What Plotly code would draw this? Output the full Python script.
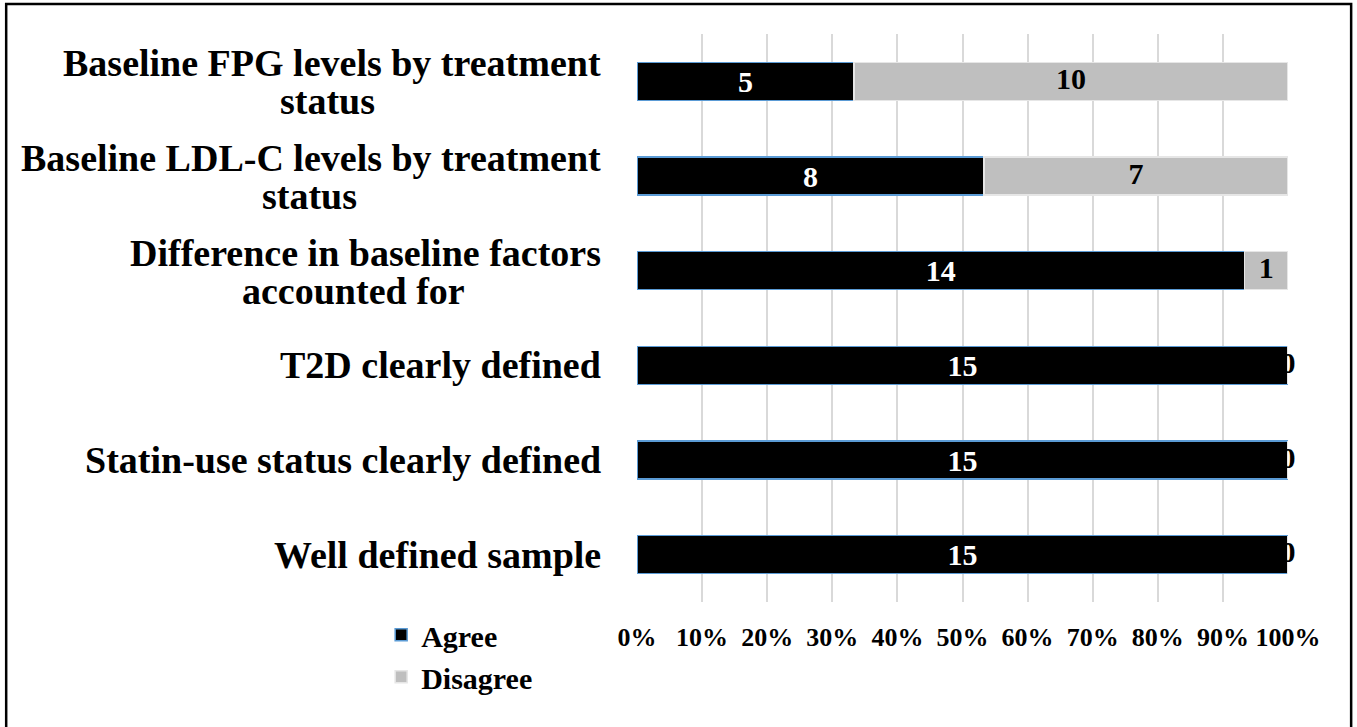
import plotly.graph_objects as go

# Study-quality ratings (number of reviewers, n = 15)
categories = [
    "Well defined sample",
    "Statin-use status clearly defined",
    "T2D clearly defined",
    "Difference in baseline factors<br>accounted for",
    "Baseline LDL-C levels by treatment<br>status",
    "Baseline FPG levels by treatment<br>status",
]
agree = [15, 15, 15, 14, 8, 5]
disagree = [0, 0, 0, 1, 7, 10]
tick_vals = [0, 10, 20, 30, 40, 50, 60, 70, 80, 90, 100]
tick_text = [f"{v}%" for v in tick_vals]

totals = [a + d for a, d in zip(agree, disagree)]
agree_pct = [a / t * 100 for a, t in zip(agree, totals)]
disagree_pct = [d / t * 100 for d, t in zip(disagree, totals)]
disagree_mid = [a + d / 2 for a, d in zip(agree_pct, disagree_pct)]

FONT = "Liberation Serif, Times New Roman, serif"
LABEL_SIZE = 38
LINE_GAP = 38          # px between wrapped label lines
LABEL_RIGHT = -0.052   # right edge of the label column (paper x)
# horizontal centre (paper x) of the continuation line under each wrapped label
WRAP_CENTRE = {3: -0.435, 4: -0.503, 5: -0.475}

fig = go.Figure()
fig.add_trace(go.Bar(
    y=categories, x=agree_pct, orientation="h", name="<b>Agree</b>",
    marker=dict(color="#000000", line=dict(color="#5B9BD5", width=1.5)),
    text=[f"<b>{v}</b>" for v in agree], textposition="inside",
    insidetextanchor="middle", constraintext="none", textangle=0,
    textfont=dict(family=FONT, size=30, color="white"),
    hoverinfo="skip",
))
fig.add_trace(go.Bar(
    y=categories, x=disagree_pct, orientation="h", name="<b>Disagree</b>",
    marker=dict(color="#BFBFBF", line=dict(color="#E6E6E6", width=1.5)),
    hoverinfo="skip",
))
# Disagree counts (also shown for zero-width segments at the 100% edge)
fig.add_trace(go.Scatter(
    y=categories, x=disagree_mid, mode="text",
    text=[f"<b>{v}</b>" for v in disagree],
    textfont=dict(family=FONT, size=30, color="black"),
    showlegend=False, hoverinfo="skip", cliponaxis=False,
))

# Category labels; wrapped labels drawn line by line with tight spacing
for idx, cat in enumerate(categories):
    lines = cat.split("<br>")
    if len(lines) == 1:
        fig.add_annotation(
            x=LABEL_RIGHT, xref="paper", y=cat, yref="y",
            text=f"<b>{lines[0]}</b>", xanchor="right", yanchor="middle",
            showarrow=False, font=dict(family=FONT, size=LABEL_SIZE, color="black"),
        )
    else:
        fig.add_annotation(
            x=LABEL_RIGHT, xref="paper", y=cat, yref="y",
            text=f"<b>{lines[0]}</b>", xanchor="right", yanchor="middle",
            showarrow=False, yshift=LINE_GAP / 2 - 1,
            font=dict(family=FONT, size=LABEL_SIZE, color="black"),
        )
        fig.add_annotation(
            x=WRAP_CENTRE[idx], xref="paper", y=cat, yref="y",
            text=f"<b>{lines[1]}</b>", xanchor="center", yanchor="middle",
            showarrow=False, yshift=-LINE_GAP / 2 - 1,
            font=dict(family=FONT, size=LABEL_SIZE, color="black"),
        )

# Outer frame
fig.add_shape(type="rect", xref="paper", yref="paper",
              x0=-0.969, x1=1.097, y0=-0.4, y1=1.053,
              line=dict(color="black", width=2.5), fillcolor="rgba(0,0,0,0)")

fig.update_layout(
    width=1357, height=727,
    margin=dict(l=637, r=69, t=34, b=125),
    barmode="stack", bargap=0.6,
    plot_bgcolor="white", paper_bgcolor="white",
    font=dict(family=FONT, color="black"),
    showlegend=True,
    legend=dict(x=-0.393, y=-0.012, xanchor="left", yanchor="top",
                traceorder="normal",
                font=dict(family=FONT, size=30, color="black"),
                itemwidth=30, tracegroupgap=0, bgcolor="rgba(0,0,0,0)"),
    xaxis=dict(range=[0, 100], tickvals=tick_vals,
               ticktext=[f"<b>{t}</b>" for t in tick_text],
               tickfont=dict(family=FONT, size=26, color="black"),
               showgrid=True, gridcolor="#D9D9D9", gridwidth=2,
               zeroline=False, showline=False, ticks="", ticklabelstandoff=17),
    yaxis=dict(showticklabels=False, showgrid=False, zeroline=False,
               showline=False, ticks=""),
)

fig.write_html("out.html")
